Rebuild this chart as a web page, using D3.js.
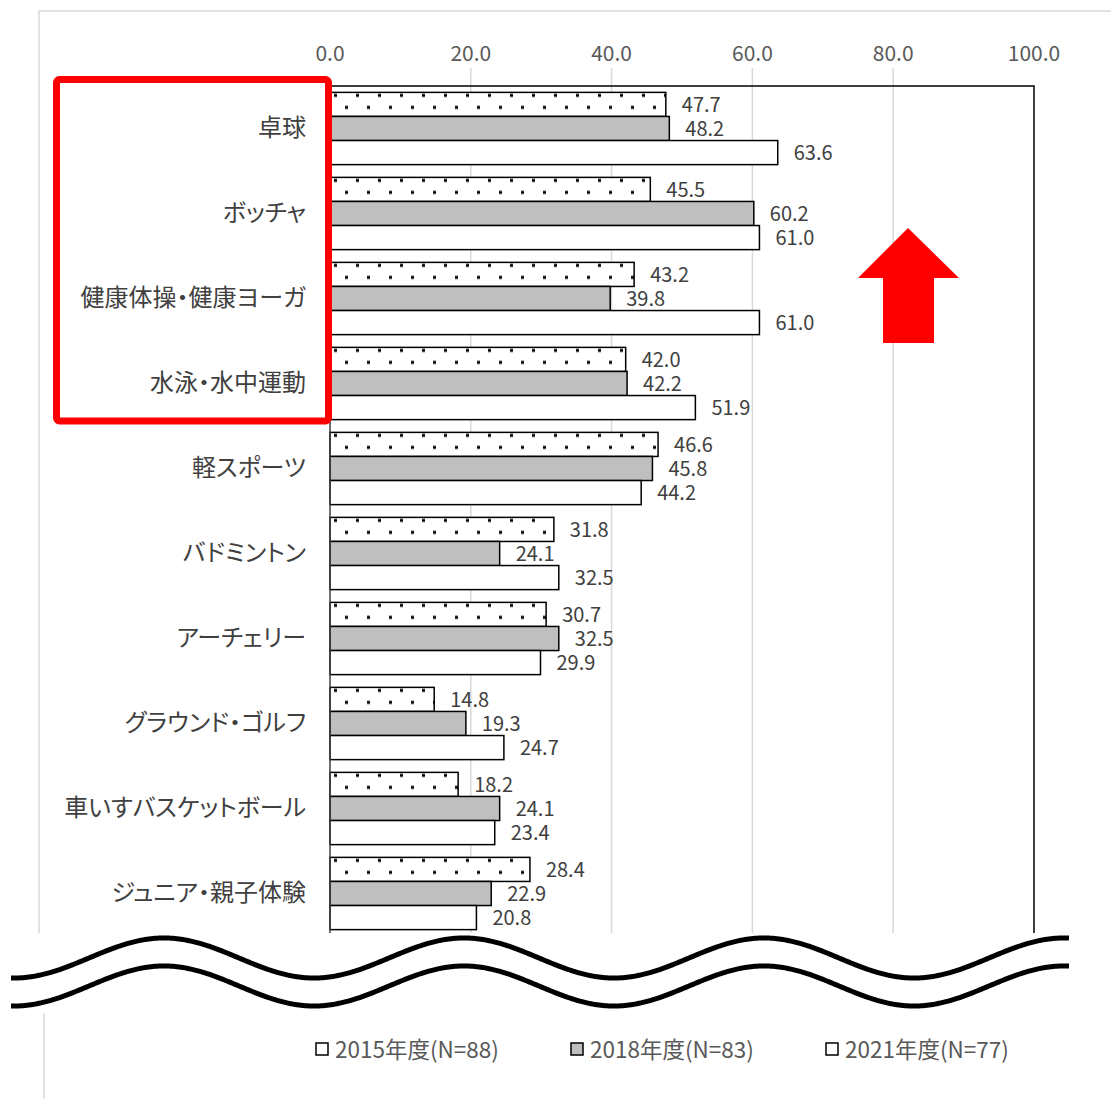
<!DOCTYPE html>
<html><head><meta charset="utf-8">
<script src="https://cdn.jsdelivr.net/npm/d3@7/dist/d3.min.js"></script>
<style>html,body{margin:0;padding:0;background:#fff;}svg{display:block;}</style>
</head><body>
<svg id="chart" width="1111" height="1099"></svg>
<script>
const categories = ["卓球","ボッチャ","健康体操・健康ヨーガ","水泳・水中運動","軽スポーツ","バドミントン","アーチェリー","グラウンド・ゴルフ","車いすバスケットボール","ジュニア・親子体験"];
const series = ["2015年度(N=88)","2018年度(N=83)","2021年度(N=77)"];
const v2015 = [47.7,45.5,43.2,42.0,46.6,31.8,30.7,14.8,18.2,28.4];
const v2018 = [48.2,60.2,39.8,42.2,45.8,24.1,32.5,19.3,24.1,22.9];
const v2021 = [63.6,61.0,61.0,51.9,44.2,32.5,29.9,24.7,23.4,20.8];
const tickValues = [0,20,40,60,80,100];

const values = [v2015, v2018, v2021];
const fills = ["url(#dots)", "#BFBFBF", "#FFFFFF"];
const FONT = "'Noto Sans CJK JP','Noto Sans',sans-serif";

const svg = d3.select("#chart");
const defs = svg.append("defs");
const pat = defs.append("pattern").attr("id","dots").attr("patternUnits","userSpaceOnUse")
  .attr("x",330).attr("y",92).attr("width",22).attr("height",24);
pat.append("rect").attr("width",22).attr("height",24).attr("fill","#fff");
pat.append("rect").attr("x",4).attr("y",5.5).attr("width",3).attr("height",3).attr("fill","#000");
pat.append("rect").attr("x",15).attr("y",17.5).attr("width",3).attr("height",3).attr("fill","#000");
defs.append("clipPath").attr("id","topclip").append("rect").attr("x",0).attr("y",0).attr("width",1111).attr("height",933);

const x = d3.scaleLinear().domain([0,100]).range([330,1034]);
const y = d3.scaleBand().domain(categories).range([86,936]).paddingInner(0.15).paddingOuter(0.075);
const ys = d3.scaleBand().domain(series).range([0,y.bandwidth()]);

const upper = svg.append("g").attr("clip-path","url(#topclip)");
// outer chart border
upper.append("path").attr("d","M39,940 L39,11 L1111,11").attr("fill","none").attr("stroke","#D9D9D9").attr("stroke-width",1.5);
// gridlines
upper.selectAll("line.grid").data(tickValues.slice(1,5)).enter().append("line")
  .attr("x1",d=>x(d)).attr("x2",d=>x(d)).attr("y1",68).attr("y2",940)
  .attr("stroke","#D9D9D9").attr("stroke-width",1.5);
// plot frame top & right
upper.append("path").attr("d",`M${x(0)},86 L${x(100)},86 L${x(100)},940`).attr("fill","none").attr("stroke","#000").attr("stroke-width",1.5);
// tick labels
upper.selectAll("text.tick").data(tickValues).enter().append("text")
  .attr("x",d=>x(d)).attr("y",61).attr("text-anchor","middle")
  .attr("font-family",FONT).attr("font-size",21).attr("fill","#595959")
  .text(d=>d.toFixed(1));

// bars
const groups = upper.selectAll("g.cat").data(categories).enter().append("g")
  .attr("transform",c=>`translate(0,${y(c)})`);
series.forEach((s,si)=>{
  groups.append("rect")
    .attr("x",x(0)).attr("y",ys(s)).attr("width",(c,i)=>x(values[si][i])-x(0)).attr("height",ys.bandwidth())
    .attr("fill",fills[si]).attr("stroke","#000").attr("stroke-width",1.5);
  groups.append("text")
    .attr("x",(c,i)=>x(values[si][i])+16).attr("y",ys(s)+ys.bandwidth()/2-1)
    .attr("dominant-baseline","central")
    .attr("font-family",FONT).attr("font-size",20).attr("fill","#404040")
    .text((c,i)=>values[si][i].toFixed(1));
});
// category labels
groups.append("text").attr("x",306).attr("y",y.bandwidth()/2-3).attr("text-anchor","end")
  .attr("dominant-baseline","central").attr("font-family",FONT).attr("font-size",24)
  .style("font-feature-settings","'palt' 1").attr("fill","#404040")
  .text(c=>c);
// axis line
upper.append("line").attr("x1",x(0)).attr("x2",x(0)).attr("y1",86).attr("y2",940).attr("stroke","#404040").attr("stroke-width",1.5);

// red box
svg.append("rect").attr("x",56.5).attr("y",79.5).attr("width",272).attr("height",341.5).attr("rx",3)
  .attr("fill","none").attr("stroke","#FF0000").attr("stroke-width",7);
// red arrow
svg.append("path").attr("d","M908,228 L959,278 L934,278 L934,343 L883,343 L883,278 L858,278 Z").attr("fill","#FF0000");

// wave break
const waveX = d3.range(11,1071,2);
const wave = off => d3.line().x(d=>d).y(d=>958+off-20*Math.cos(2*Math.PI*(d-164)/300))(waveX);
svg.append("path").attr("d",wave(0)).attr("fill","none").attr("stroke","#000").attr("stroke-width",5).attr("stroke-linecap","butt");
svg.append("path").attr("d",wave(28)).attr("fill","none").attr("stroke","#000").attr("stroke-width",5).attr("stroke-linecap","butt");

// lower part border
svg.append("line").attr("x1",44).attr("x2",44).attr("y1",1013).attr("y2",1099).attr("stroke","#D9D9D9").attr("stroke-width",1.5);

// legend
const legendFills = ["#FFFFFF","#BFBFBF","#FFFFFF"];
const leg = svg.selectAll("g.leg").data(series).enter().append("g")
  .attr("transform",(d,i)=>`translate(${316+i*255},1049)`);
leg.append("rect").attr("x",0).attr("y",-6).attr("width",12).attr("height",12)
  .attr("fill",(d,i)=>legendFills[i]).attr("stroke","#000").attr("stroke-width",1.5);
leg.append("text").attr("x",19).attr("y",-1).attr("dominant-baseline","central")
  .attr("font-family",FONT).attr("font-size",22.5).attr("fill","#595959").text(d=>d);
</script>
</body></html>
